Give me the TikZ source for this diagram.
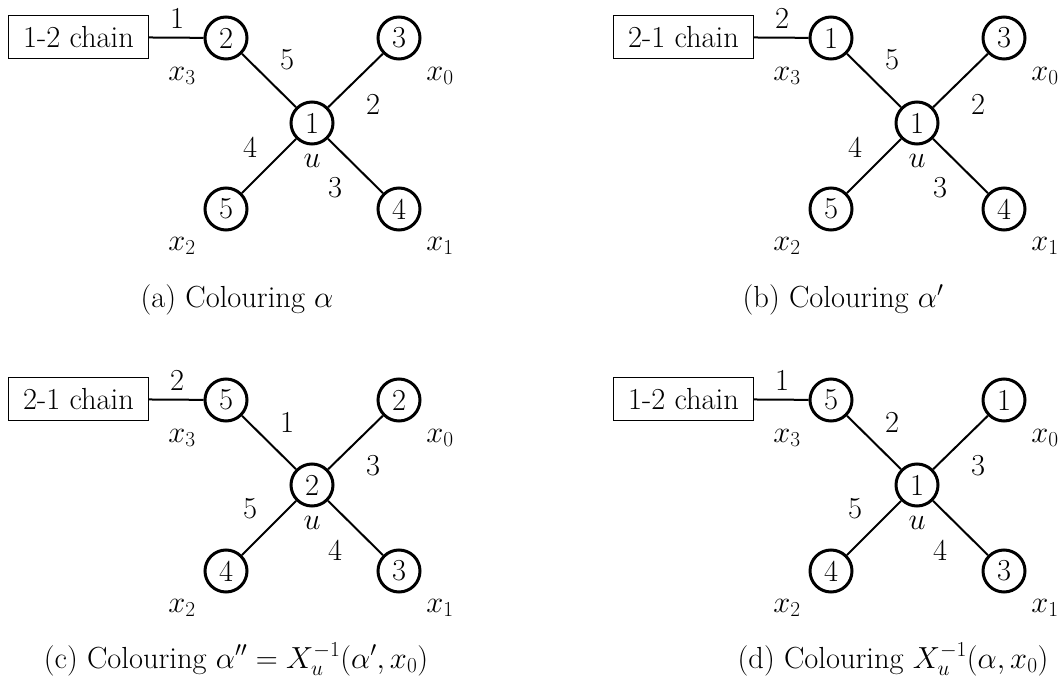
\RequirePackage{fix-cm}
\documentclass[tikz,border=0pt]{standalone}
\tikzset{
  vert/.style={circle, draw, line width=3pt, minimum size=42pt, inner sep=0pt},
  chainbox/.style={draw, line width=1.3pt, minimum width=140pt, minimum height=43pt, inner sep=0pt},
  edgeline/.style={line width=2pt},
  lbl/.style={inner sep=0pt},
  captext/.style={anchor=base, inner sep=0pt},
}
\newcommand\edgelabels[4]{%
  \node[lbl] (\pfx e3) at (287,60) {#1};
  \node[lbl] (\pfx e0) at (373,104) {#2};
  \node[lbl] (\pfx e2) at (250,147) {#3};
  \node[lbl] (\pfx e1) at (335,188) {#4};
}
% #1 prefix, #2 chain text, #3 chain edge label, #4 x3, #5 x0, #6 u, #7 x2, #8 x1, #9 edge labels
\newcommand\onepanel[9]{%
  \def\pfx{#1}%
  \node[chainbox] (#1box) at (78.5,37) {#2};
  \node[vert] (#1x3) at (226,38) {#4};
  \node[vert] (#1x0) at (399,38) {#5};
  \node[vert] (#1u) at (312,123) {#6};
  \node[vert] (#1x2) at (226,209) {#7};
  \node[vert] (#1x1) at (399,209) {#8};
  \draw[edgeline] (#1box) -- (#1x3);
  \draw[edgeline] (#1u) -- (#1x3);
  \draw[edgeline] (#1u) -- (#1x0);
  \draw[edgeline] (#1u) -- (#1x2);
  \draw[edgeline] (#1u) -- (#1x1);
  \node[lbl] (#1ce) at (177,18) {#3};
  \edgelabels#9
  \node[lbl] (#1n3) at (182,76) {$x_3$};
  \node[lbl] (#1n0) at (440,76) {$x_0$};
  \node[lbl] (#1n2) at (182,246) {$x_2$};
  \node[lbl] (#1n1) at (440,246) {$x_1$};
  \node[lbl] (#1nu) at (312,161) {$u$};
}
\begin{document}
\begin{tikzpicture}[x=1pt, y=-1pt, every node/.style={font=\fontsize{30.5}{36}\selectfont}]
\useasboundingbox (0,0) rectangle (1062,684);
\begin{scope}
  \onepanel{a}{1-2 chain}{1}{2}{3}{1}{5}{4}{{5}{2}{4}{3}}
\end{scope}
\begin{scope}[shift={(605,0)}]
  \onepanel{b}{2-1 chain}{2}{1}{3}{1}{5}{4}{{5}{2}{4}{3}}
\end{scope}
\begin{scope}[shift={(0,362)}]
  \onepanel{c}{2-1 chain}{2}{5}{2}{2}{4}{3}{{1}{3}{5}{4}}
\end{scope}
\begin{scope}[shift={(605,362)}]
  \onepanel{d}{1-2 chain}{1}{5}{1}{1}{4}{3}{{2}{3}{5}{4}}
\end{scope}
\node[captext] (capa) at (237,308) {(a) Colouring $\alpha$};
\node[captext] (capb) at (843,308) {(b) Colouring $\alpha'$};
\node[captext] (capc) at (236,668) {(c) Colouring $\alpha'' = X_u^{-1}(\alpha', x_0)$};
\node[captext] (capd) at (893,668) {(d) Colouring $X_u^{-1}(\alpha, x_0)$};
\end{tikzpicture}
\end{document}
